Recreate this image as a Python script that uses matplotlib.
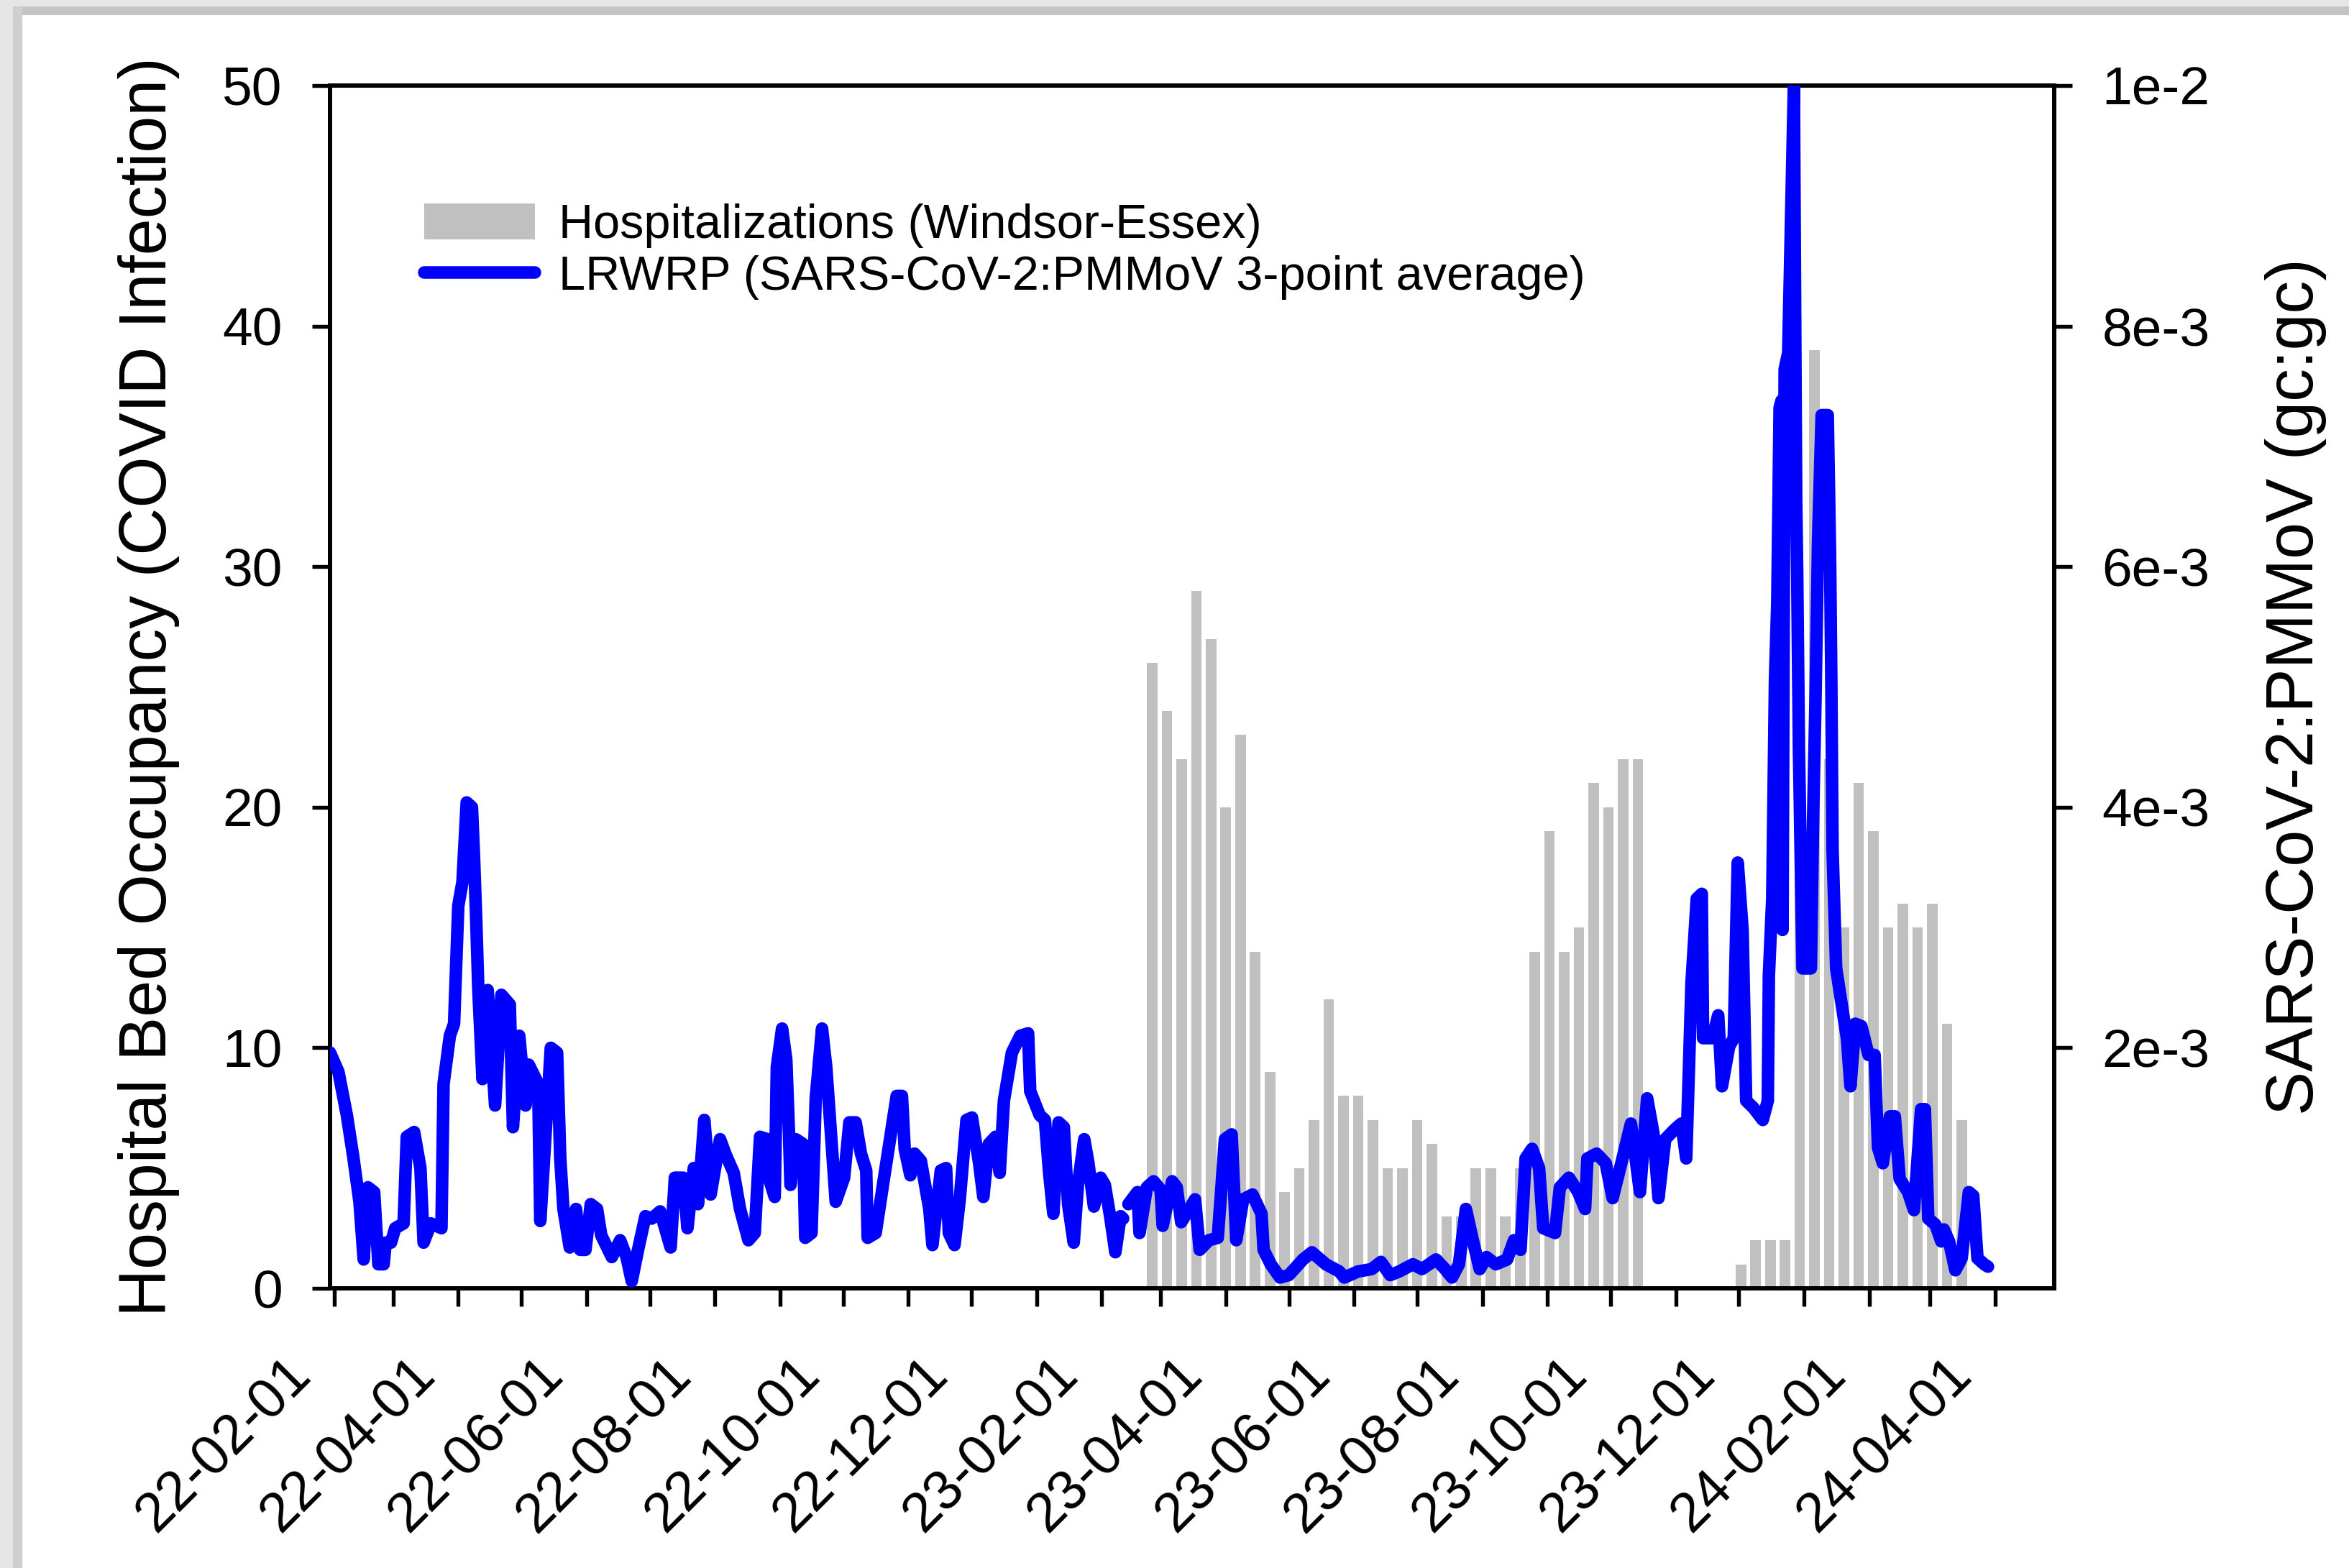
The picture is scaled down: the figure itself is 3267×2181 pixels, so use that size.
import numpy as np
import pandas as pd
import matplotlib
matplotlib.use("Agg")
import matplotlib.pyplot as plt
import matplotlib.dates as mdates
from matplotlib.patches import Patch, Rectangle
from matplotlib.lines import Line2D
from matplotlib.transforms import ScaledTranslation

plt.rcParams["font.family"] = ["Liberation Sans", "DejaVu Sans"]

# Weekly hospital bed occupancy (Windsor-Essex), first week 2023-02-25
hosp_start = "2023-02-25"
hosp_beds = [26, 24, 22, 29, 27, 20, 23, 14, 9, 4,
             5, 7, 12, 8, 8, 7, 5, 5, 7, 6,
             3, 3, 5, 5, 3, 5, 14, 19, 14, 15,
             21, 20, 22, 22,
             0, 0, 0, 0, 0, 0,
             1, 2, 2, 2, 20, 39, 22, 15, 21, 19,
             15, 16, 15, 16, 11, 7]

# LRWRP wastewater signal, sample day counted from 2022-02-01
ww_origin = "2022-02-01"
ww_day = [
    -2, 2, 6, 9, 12, 14, 16, 19, 21, 23.5, 24.5, 27, 29, 33, 34.5, 38, 41, 42.5,
    46, 51, 52, 55, 57, 59, 61, 63, 65.5, 66.5, 67.5, 68.5, 70.5, 73, 76.5, 79.5,
    83.5, 85, 88, 91, 92.5, 97, 98, 100, 103, 106, 107.5, 109, 112, 115, 117,
    119.5, 122, 125, 127, 132, 136, 139, 141.5, 144.5, 148, 151, 155, 160, 162,
    166, 168, 171, 173, 176, 179, 183.5,
    186, 190, 193, 197, 200, 202.5, 206, 207, 209.5, 210.5, 213, 215, 216.3, 217,
    219.5, 223, 224, 227, 229, 232, 234, 235.3, 238.5, 242.5, 245, 248, 250.5,
    253, 253.7, 257.5, 261.5, 267.5, 270, 271.3, 274, 276, 279, 283, 284.5,
    288.5, 291, 292.3, 295, 297.5, 300.7, 303.3, 306.7, 308.7, 311.3, 314.5,
    316.5, 318.5, 322.3, 326.3, 330, 331, 335.5, 338, 340, 342, 344.5, 347, 349,
    351.7, 353.7, 356.7, 358.7, 361.3, 364.5, 366.5, 369, 371.5, 374, 375.2,
    376.5,
    377.7, 382, 383, 386.5, 389.7, 393, 394, 398.5, 400.7, 402.8, 406, 409.4,
    411.6, 416, 420.2, 423.6, 426.8, 429, 432.3, 436.7, 441, 442, 445.4, 449.8,
    454, 460.7, 465, 471.6, 478, 480.4, 486.9, 493.4, 497.8, 502.2, 506.5, 513,
    517.3, 524, 528.3, 531.6, 534.9, 538.2, 541.5, 544.8, 548, 552.4, 557.8,
    561.1, 564.2, 566.6, 569.7, 573, 575, 580.6, 582.9, 587.2, 591.6, 594.9, 596,
    600.4, 604.7, 608, 612.4, 616.7, 621, 624.4, 627.5, 629.8, 633, 637.4, 640.7,
    643, 645.5, 648, 650.4, 651, 655.5, 658.2, 660, 663.4, 665.6, 667.5, 669.8,
    671.5, 675, 679.4, 681.8, 682.3, 683.9, 685.2, 686.3, 687.4, 688.3, 688.8,
    689.8, 691.5, 694.2, 695.3, 695.8, 696.6, 698.3, 702.3, 703.4, 704.5, 705.7,
    707.4, 710.3, 711.4, 712, 712.6, 714.3, 717.1, 719.4, 721.1, 723.4, 726.3,
    729.7, 732.6, 734.2, 736.5, 739.9, 742.2, 744.5, 748.5, 751.3, 754.7, 756.5,
    758.1, 761.5, 764.3, 765.5, 768, 771, 774, 777.4, 779.5, 781.5, 784.7, 786.5,
]
# SARS-CoV-2:PMMoV ratio, in units of 1e-3 gc:gc (nan = no sample)
ww_ratio = [
    1.96, 1.80, 1.44, 1.10, 0.72, 0.24, 0.84, 0.80, 0.20, 0.20, 0.38, 0.38, 0.50,
    0.54, 1.26, 1.30, 1.00, 0.38, 0.54, 0.50, 1.70, 2.10, 2.20, 3.18, 3.38, 4.04,
    4.00, 3.58, 3.08, 2.50, 1.74, 2.48, 1.52, 2.44, 2.36, 1.34, 2.10, 1.52, 1.86,
    1.70, 0.56, 1.14, 2.00, 1.96, 1.08, 0.66, 0.34, 0.66, 0.32, 0.32, 0.70, 0.66,
    0.44, 0.26, 0.40, 0.26, 0.06, 0.32, 0.60, 0.58, 0.64, 0.34, 0.92, 0.92, 0.50,
    1.00, 0.70, 1.40, 0.78, 1.24,
    1.12, 0.96, 0.66, 0.40, 0.46, 1.26, 1.24, 0.90, 0.76, 1.84, 2.16, 1.90, 1.28,
    0.86, 1.24, 1.20, 0.42, 0.46, 1.58, 2.16, 1.84, 1.52, 0.72, 0.92, 1.38, 1.38,
    1.12, 0.98, 0.42, 0.46, 0.92, 1.60, 1.60, 1.16, 0.94, 1.12, 1.06, 0.66, 0.36,
    0.98, 1.00, 0.46, 0.36, 0.74, 1.40, 1.42, 1.04, 0.76, 1.20, 1.26, 0.96, 1.56,
    1.96, 2.10, 2.12, 1.64, 1.44, 1.40, 0.96, 0.62, 1.38, 1.34, 0.70, 0.38, 0.86,
    1.24, 1.04, 0.68, 0.92, 0.86, 0.60, 0.30, 0.60, 0.58,
    np.nan,
    0.70, 0.80, 0.46, 0.84, 0.89, 0.82, 0.52, 0.89, 0.84, 0.55, 0.64, 0.74, 0.32,
    0.40, 0.42, 1.24, 1.28, 0.40, 0.74, 0.78, 0.62, 0.32, 0.20, 0.09, 0.11, 0.24,
    0.30, 0.20, 0.14, 0.09, 0.14, 0.16, 0.22, 0.11, 0.14, 0.20, 0.16, 0.24, 0.16,
    0.09, 0.20, 0.66, 0.40, 0.16, 0.26, 0.20, 0.24, 0.40, 0.32, 1.08, 1.16, 1.00,
    0.50, 0.46, 0.84, 0.92, 0.80, 0.66, 1.08, 1.12, 1.04, 0.75, 1.06, 1.37, 0.80,
    1.58, 1.28, 0.75, 1.24, 1.32, 1.37, 1.08, 2.54, 3.24, 3.28, 2.08, 2.08, 2.27,
    1.68, 2.01, 2.08, 3.54, 2.98, 1.56, 1.50, 1.40, 1.56, 2.60, 3.24, 5.06, 5.70,
    7.32, 7.38, 2.98, 7.64, 7.78, 10.00, 6.54, 5.90, 4.48, 2.66, 2.66, 3.96, 4.92,
    6.22, 7.26, 7.26, 6.10, 5.06, 3.64, 2.66, 2.34, 2.08, 1.68, 2.20, 2.18, 1.94,
    1.94, 1.17, 1.04, 1.43, 1.43, 0.91, 0.80, 0.65, 1.49, 1.49, 0.58, 0.53, 0.39,
    0.49, 0.39, 0.15, 0.25, 0.80, 0.77, 0.25, 0.20, 0.18,
]

right_ticks = [2e-3, 4e-3, 6e-3, 8e-3, 1e-2]
right_labels = ["2e-3", "4e-3", "6e-3", "8e-3", "1e-2"]

hosp_dates = pd.date_range(hosp_start, periods=len(hosp_beds), freq="7D")
ww_dates = pd.Timestamp(ww_origin) + pd.to_timedelta(np.array(ww_day), unit="D")
ww_values = np.array(ww_ratio) * 1e-3

W, H = 3267, 2181
fig = plt.figure(figsize=(W / 300, H / 300), dpi=300)

# grey screenshot edge along top and left
fig.patches.append(Rectangle((0, 1 - 11 / H), 1, 11 / H, transform=fig.transFigure,
                             color="#e6e6e6", zorder=-5))
fig.patches.append(Rectangle((0, 0), 20 / W, 1, transform=fig.transFigure,
                             color="#e6e6e6", zorder=-5))
fig.patches.append(Rectangle((20 / W, 1 - 19 / H), 1, 8 / H, transform=fig.transFigure,
                             color="#c4c4c4", zorder=-4))
fig.patches.append(Rectangle((20 / W, 0), 9 / W, 1 - 11 / H, transform=fig.transFigure,
                             color="#cfcfcf", zorder=-4))

ax = fig.add_axes([459 / W, 1 - 1792 / H, 2398 / W, 1673 / H])

ax.bar(hosp_dates, hosp_beds, width=5, color="#c0c0c0", linewidth=0, zorder=2)
ax.set_ylim(0, 50)
ax.set_yticks(range(0, 51, 10))
ax.set_xlim(pd.Timestamp("2022-01-30"), pd.Timestamp("2024-04-29"))

ax.xaxis.set_major_locator(mdates.MonthLocator(bymonth=range(2, 13, 2)))
ax.xaxis.set_minor_locator(mdates.MonthLocator())
ax.xaxis.set_major_formatter(mdates.DateFormatter("%y-%m-%d"))
ax.tick_params(axis="both", which="both", direction="out", length=6, width=1.3)
ax.tick_params(axis="x", which="major", pad=14, labelsize=18.5)
ax.tick_params(axis="y", pad=10, labelsize=18)

ax.set_ylabel("Hospital Bed Occupancy (COVID Infection)", fontsize=22)
ax.yaxis.set_label_coords(-0.087, 0.5)

ax2 = ax.twinx()
ax2.plot(ww_dates, ww_values, color="#0000ff", linewidth=4.2,
         solid_capstyle="round", solid_joinstyle="round", zorder=3)
ax2.set_ylim(0, 0.01)
ax2.set_yticks(right_ticks, right_labels)
ax2.tick_params(axis="y", direction="out", length=6, width=1.3, labelsize=18, pad=10)
ax2.set_ylabel("SARS-CoV-2:PMMoV (gc:gc)", fontsize=22)
ax2.yaxis.set_label_coords(1.122, 0.5)

for a in (ax, ax2):
    for sp in a.spines.values():
        sp.set_linewidth(1.4)

# rotated date labels, nudged a little left of their tick
shift = ScaledTranslation(-19 / 300, 0, fig.dpi_scale_trans)
for lab in ax.get_xticklabels():
    lab.set_rotation(45)
    lab.set_ha("right")
    lab.set_transform(lab.get_transform() + shift)

handles = [
    Patch(facecolor="#c0c0c0", edgecolor="none"),
    Line2D([], [], color="#0000ff", linewidth=4.2, solid_capstyle="round"),
]
labels = [
    "Hospitalizations (Windsor-Essex)",
    "LRWRP (SARS-CoV-2:PMMoV 3-point average)",
]
ax2.legend(handles, labels, loc="upper left", bbox_to_anchor=(0.0546, 0.902),
           frameon=False, fontsize=16, handlelength=2.31, handleheight=0.78,
           handletextpad=0.5, labelspacing=0.15, borderpad=0, borderaxespad=0)

fig.savefig("out.png", dpi=300)
